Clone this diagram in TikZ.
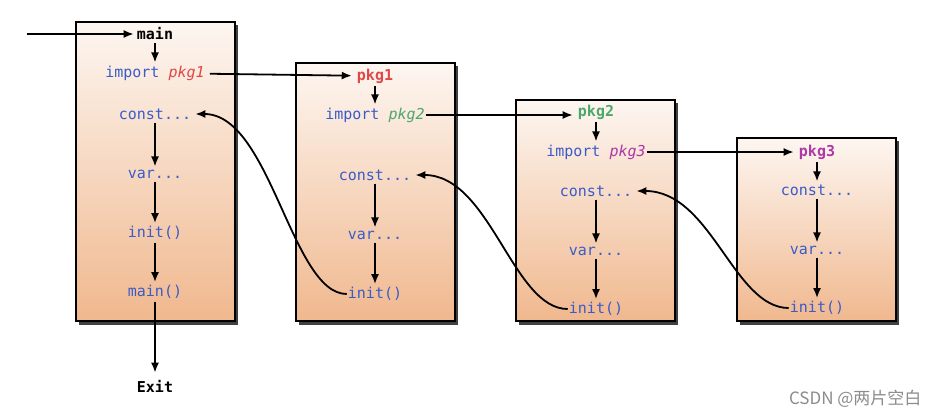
\documentclass[tikz,border=0pt]{standalone}
\usepackage{fontspec}
\setmonofont{DejaVu Sans Mono}
\newfontfamily\cjkfont{Noto Sans CJK SC}
\usetikzlibrary{arrows.meta}

\definecolor{kwblue}{HTML}{3B5BC9}
\definecolor{pkgred}{HTML}{E04848}
\definecolor{pkggreen}{HTML}{4CA86A}
\definecolor{pkgpurple}{HTML}{AE38A8}
\definecolor{boxtop}{HTML}{FDF6F1}
\definecolor{boxbottom}{HTML}{F0B88E}

\begin{document}
\begin{tikzpicture}[x=1pt,y=-1pt,
  pkgbox/.style={draw=black,line width=2.4pt,top color=boxtop,bottom color=boxbottom},
  boxshadow/.style={fill=black!75},
  code/.style={font=\ttfamily\fontsize{15}{17}\selectfont,text=kwblue,inner sep=1pt},
  head/.style={code,font=\ttfamily\bfseries\fontsize{15}{17}\selectfont},
  flow/.style={-{Latex[length=10pt,width=8pt]},line width=1.8pt,shorten <=2pt,shorten >=2pt},
  back/.style={-{Latex[length=10pt,width=8pt]},line width=1.8pt}]

\def\bw{159}
\def\ax{155}
\def\bx{375}
\def\cx{596}
\def\dx{817}

\path [use as bounding box, fill=white] (0,0) rectangle (938,418);

% BOXES
\foreach \l/\t in {76/22, 296/63, 516/100, 737/138} {
  \fill [boxshadow] (\l+3,\t+3) rectangle (\l+\bw+3,325);
  \path [pkgbox] (\l,\t) rectangle (\l+\bw,321);
}

% MAIN
\node [head, text=black] (m-main) at (\ax,34) {main};
\node [code] (m-imp) at (\ax,73) {import \textcolor{pkgred}{\textit{pkg1}}};
\node [code] (m-const) at (\ax,114) {const...};
\node [code] (m-var) at (\ax,174) {var...};
\node [code] (m-init) at (\ax,233) {init()};
\node [code] (m-run) at (\ax,292) {main()};
\node [head, text=black] (exit) at (\ax,386) {Exit};
\coordinate (start) at (27,34);

% PKG1
\node [head, text=pkgred] (a-name) at (\bx,76) {pkg1};
\node [code] (a-imp) at (\bx,115) {import \textcolor{pkggreen}{\textit{pkg2}}};
\node [code] (a-const) at (\bx,175) {const...};
\node [code] (a-var) at (\bx,235) {var...};
\node [code] (a-init) at (\bx,294) {init()};

% PKG2
\node [head, text=pkggreen] (b-name) at (\cx,112) {pkg2};
\node [code] (b-imp) at (\cx,152) {import \textcolor{pkgpurple}{\textit{pkg3}}};
\node [code] (b-const) at (\cx,191) {const...};
\node [code] (b-var) at (\cx,251) {var...};
\node [code] (b-init) at (\cx,309) {init()};

% PKG3
\node [head, text=pkgpurple] (c-name) at (\dx,152) {pkg3};
\node [code] (c-const) at (\dx,190) {const...};
\node [code] (c-var) at (\dx,250) {var...};
\node [code] (c-init) at (\dx,308) {init()};

% FLOW
\draw [flow, shorten <=0pt] (start) -- (m-main);
\draw [flow] (m-main) -- (m-imp);
\draw [flow] (m-const) -- (m-var);
\draw [flow] (m-var) -- (m-init);
\draw [flow] (m-init) -- (m-run);
\draw [flow, shorten >=6pt] (m-run) -- (exit);
\draw [flow, shorten <=4pt, shorten >=4pt] (m-imp) -- (a-name);
\draw [flow] (a-name) -- (a-imp);
\draw [flow] (a-const) -- (a-var);
\draw [flow] (a-var) -- (a-init);
\draw [flow, shorten <=0pt, shorten >=4pt] (a-imp) -- (a-imp -| b-name.west);
\draw [flow] (b-name) -- (b-imp);
\draw [flow] (b-const) -- (b-var);
\draw [flow] (b-var) -- (b-init);
\draw [flow, shorten <=0pt, shorten >=4pt] (b-imp) -- (c-name);
\draw [flow] (c-name) -- (c-const);
\draw [flow] (c-const) -- (c-var);
\draw [flow] (c-var) -- (c-init);

% RETURNS
\draw [back] (a-init.west) .. controls +(-55,0) and +(75,0) .. ([xshift=3pt]m-const.east);
\draw [back] (b-init.west) .. controls +(-55,0) and +(75,0) .. ([xshift=3pt]a-const.east);
\draw [back] (c-init.west) .. controls +(-55,0) and +(75,0) .. ([xshift=3pt]b-const.east);

% CREDIT
\node [text=black!45, font=\cjkfont\fontsize{17}{19}\selectfont, anchor=east] (credit) at (925,399) {CSDN @两片空白};

\end{tikzpicture}
\end{document}
